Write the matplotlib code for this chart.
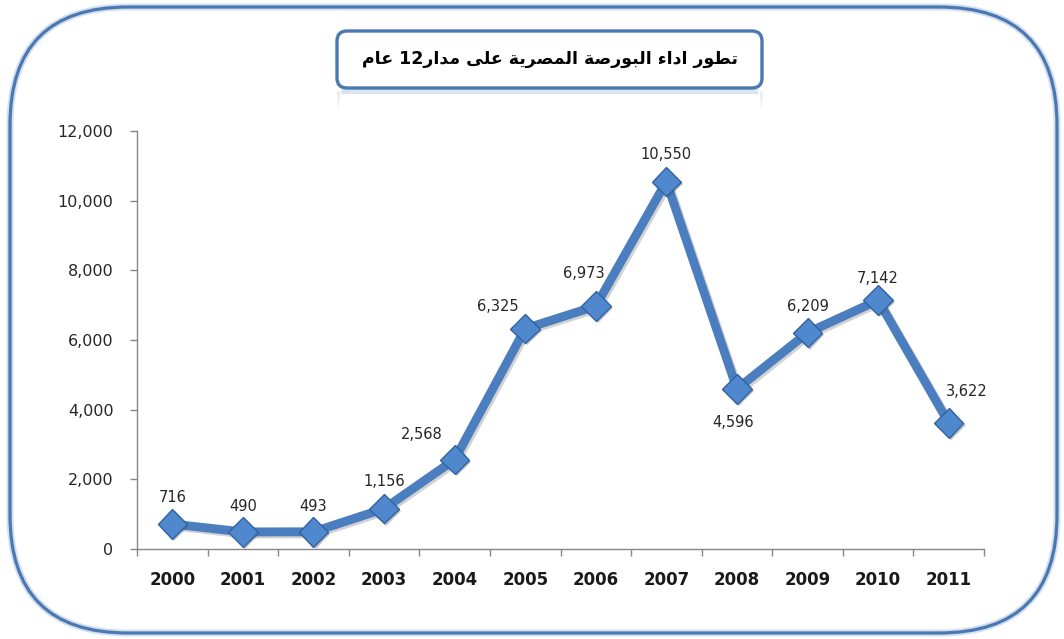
import re
import matplotlib
matplotlib.use("Agg")
import matplotlib.pyplot as plt
import matplotlib.patheffects as pe
from matplotlib.patches import FancyBboxPatch
from matplotlib.ticker import FuncFormatter, FixedLocator

# ---------------- data ----------------
years = ["2000", "2001", "2002", "2003", "2004", "2005",
         "2006", "2007", "2008", "2009", "2010", "2011"]
values = [716, 490, 493, 1156, 2568, 6325, 6973, 10550, 4596, 6209, 7142, 3622]
value_labels = ["716", "490", "493", "1,156", "2,568", "6,325",
                "6,973", "10,550", "4,596", "6,209", "7,142", "3,622"]
title_text = "تطور اداء البورصة المصرية على مدار12 عام"
y_ticks = [0, 2000, 4000, 6000, 8000, 10000, 12000]

# label offsets in pixels (dx, dy) relative to the point
label_offsets = [(0, 27), (0, 25), (0, 25), (0, 27), (-33, 25), (-27, 22),
                 (-12, 33), (0, 27), (-4, -34), (0, 26), (0, 22), (18, 31)]

# ---------------- Arabic shaping (presentation forms) ----------------
AR_FORMS = {
    '\u0621': ('\uFE80', None, None, None),
    '\u0627': ('\uFE8D', '\uFE8E', None, None),
    '\u0628': ('\uFE8F', '\uFE90', '\uFE91', '\uFE92'),
    '\u0629': ('\uFE93', '\uFE94', None, None),
    '\u062A': ('\uFE95', '\uFE96', '\uFE97', '\uFE98'),
    '\u062F': ('\uFEA9', '\uFEAA', None, None),
    '\u0631': ('\uFEAD', '\uFEAE', None, None),
    '\u0635': ('\uFEB9', '\uFEBA', '\uFEBB', '\uFEBC'),
    '\u0637': ('\uFEC1', '\uFEC2', '\uFEC3', '\uFEC4'),
    '\u0639': ('\uFEC9', '\uFECA', '\uFECB', '\uFECC'),
    '\u0644': ('\uFEDD', '\uFEDE', '\uFEDF', '\uFEE0'),
    '\u0645': ('\uFEE1', '\uFEE2', '\uFEE3', '\uFEE4'),
    '\u0648': ('\uFEED', '\uFEEE', None, None),
    '\u0649': ('\uFEEF', '\uFEF0', None, None),
    '\u064A': ('\uFEF1', '\uFEF2', '\uFEF3', '\uFEF4'),
}


def shape_arabic(s):
    out = []
    n = len(s)
    for i, c in enumerate(s):
        if c not in AR_FORMS:
            out.append(c)
            continue
        f = AR_FORMS[c]
        prev_j = (i > 0 and s[i - 1] in AR_FORMS and AR_FORMS[s[i - 1]][2] is not None
                  and f[1] is not None)
        next_j = (i + 1 < n and s[i + 1] in AR_FORMS and f[2] is not None
                  and AR_FORMS[s[i + 1]][1] is not None)
        if prev_j and next_j:
            out.append(f[3])
        elif prev_j:
            out.append(f[1])
        elif next_j:
            out.append(f[2])
        else:
            out.append(f[0])
    shaped = "".join(out)
    tokens = re.findall(r"\d+|\D", shaped)
    return "".join(reversed(tokens))


# ---------------- figure ----------------
W, H = 1064, 639
fig = plt.figure(figsize=(W / 100, H / 100), dpi=100)
fig.patch.set_facecolor("white")

# background / decoration axes in pixel coordinates
bg = fig.add_axes([0, 0, 1, 1], zorder=0)
bg.set_xlim(0, W)
bg.set_ylim(H, 0)
bg.axis("off")

frame_col = "#4a78b2"
glow = FancyBboxPatch((10, 7), 1047, 626, boxstyle="round,pad=0,rounding_size=118",
                      fill=False, edgecolor="#d3deee", linewidth=5, zorder=1)
bg.add_patch(glow)
frame = FancyBboxPatch((10, 7), 1047, 626, boxstyle="round,pad=0,rounding_size=118",
                       fill=False, edgecolor=frame_col, linewidth=2.3, zorder=2)
bg.add_patch(frame)

# title box
tb_x0, tb_y0, tb_w, tb_h = 337, 31, 425, 57
for k in range(12):
    a = 0.28 * (1 - k / 12)
    for xx in (tb_x0 + 1, tb_x0 + tb_w - 1):
        bg.plot([xx, xx], [tb_y0 + tb_h + 3 + k * 1.6, tb_y0 + tb_h + 4.6 + k * 1.6],
                color="#9fb3cf", alpha=a, lw=2.0, solid_capstyle="butt", zorder=3)
bg.fill_between([tb_x0 + 4, tb_x0 + tb_w - 4], tb_y0 + tb_h + 1, tb_y0 + tb_h + 6,
                color="#c6d3e6", alpha=0.6, lw=0, zorder=3)
tbox = FancyBboxPatch((tb_x0, tb_y0), tb_w, tb_h, boxstyle="round,pad=0,rounding_size=10",
                      facecolor="white", edgecolor=frame_col, linewidth=2.4, zorder=4)
bg.add_patch(tbox)
bg.text(tb_x0 + tb_w / 2, tb_y0 + tb_h / 2 - 1, shape_arabic(title_text),
        ha="center", va="center", fontsize=12.5, fontweight="bold",
        family=["DejaVu Sans"], color="black", zorder=5)

# ---------------- main chart ----------------
left, right, top, bottom = 137, 984, 131, 549
ax = fig.add_axes([left / W, 1 - bottom / H, (right - left) / W, (bottom - top) / H], zorder=2)
ax.patch.set_alpha(0)

x = list(range(len(years)))
line_col = "#4a7ebf"
ax.plot(x, values, color=line_col, linewidth=6.4, solid_joinstyle="miter", zorder=3,
        path_effects=[pe.SimpleLineShadow(offset=(1.5, -1.5), shadow_color="#7f7f7f", alpha=0.35),
                      pe.Normal()])
ax.plot(x, values, linestyle="none", marker="D", markersize=15,
        markerfacecolor="#4f88cc", markeredgecolor="#2f62a3", markeredgewidth=1.0, zorder=4,
        path_effects=[pe.SimplePatchShadow(offset=(1.5, -1.5), shadow_rgbFace="#555555", alpha=0.35),
                      pe.Normal()])

for xi, v, lab, (dx, dy) in zip(x, values, value_labels, label_offsets):
    ax.annotate(lab, (xi, v), xytext=(dx * 0.72, dy * 0.72), textcoords="offset points",
                ha="center", va="center", fontsize=10.5, color="#262626", zorder=5)

ax.set_xlim(-0.5, len(years) - 0.5)
ax.set_ylim(0, 12000)
ax.yaxis.set_major_locator(FixedLocator(y_ticks))
ax.yaxis.set_major_formatter(FuncFormatter(lambda v, p: f"{int(v):,}"))
ax.set_xticks(x)
ax.set_xticklabels(years, fontsize=12, fontweight="bold", color="#1a1a1a")
ax.set_xticks([i - 0.5 for i in range(len(years) + 1)], minor=True)
ax.tick_params(axis="x", which="major", length=0, pad=16)
ax.tick_params(axis="x", which="minor", length=5, width=1, color="#868686", direction="out")
ax.tick_params(axis="y", which="major", length=5, width=1, color="#868686", direction="out",
               labelsize=11.5, labelcolor="#262626", pad=12)
for s in ["top", "right"]:
    ax.spines[s].set_visible(False)
for s in ["left", "bottom"]:
    ax.spines[s].set_color("#868686")
    ax.spines[s].set_linewidth(1.0)

fig.savefig("out.png", dpi=100, facecolor="white")
